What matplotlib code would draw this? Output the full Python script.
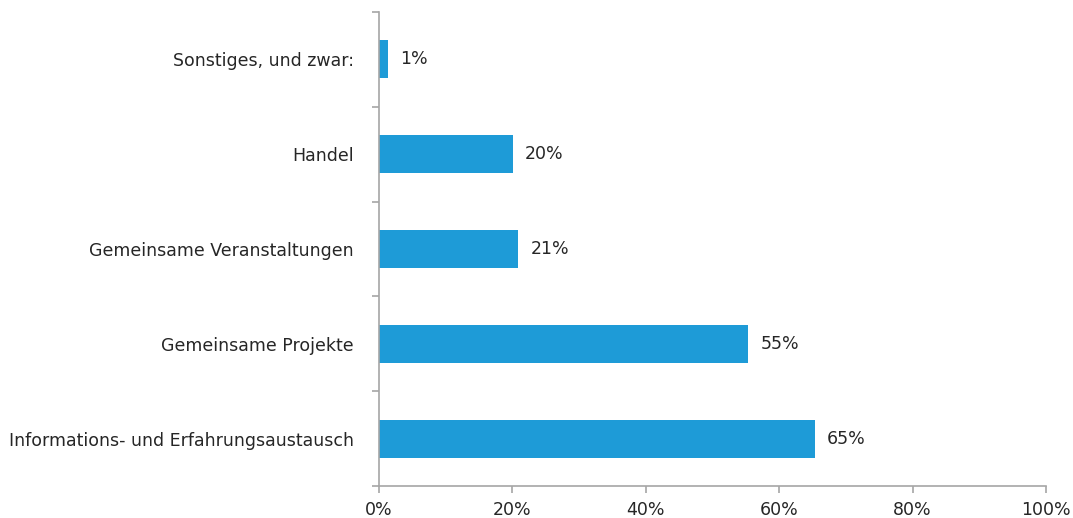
import matplotlib.pyplot as plt
import numpy as np
from matplotlib.ticker import FixedLocator, PercentFormatter

categories = [
    "Informations- und Erfahrungsaustausch",
    "Gemeinsame Projekte",
    "Gemeinsame Veranstaltungen",
    "Handel",
    "Sonstiges, und zwar:",
]
shares = [65.4, 55.4, 20.9, 20.1, 1.4]

bar_color = "#1e9bd7"
axis_color = "#a6a6a6"
text_color = "#262626"

plt.rcParams["font.family"] = "DejaVu Sans"

fig = plt.figure(figsize=(10.73, 5.18), dpi=100)
ax = fig.add_axes([0.3532, 0.0618, 0.6216, 0.915])

y = np.arange(len(categories))
bars = ax.barh(y, shares, height=0.4, color=bar_color)

for rect, v in zip(bars, shares):
    ax.text(rect.get_width() + 1.8, rect.get_y() + rect.get_height() / 2,
            f"{v:.0f}%", va="center", ha="left", fontsize=12.5, color=text_color)

ax.set_xlim(0, 100)
ax.set_ylim(-0.5, len(categories) - 0.5)
ax.set_xticks(np.arange(0, 101, 20))
ax.xaxis.set_major_formatter(PercentFormatter(100, decimals=0))
ax.set_yticks(y)
ax.set_yticklabels(categories)
ax.yaxis.set_minor_locator(FixedLocator(np.arange(-0.5, len(categories), 1)))

for side in ("top", "right"):
    ax.spines[side].set_visible(False)
for side in ("left", "bottom"):
    ax.spines[side].set_color(axis_color)
    ax.spines[side].set_linewidth(1.2)

ax.tick_params(axis="y", which="major", length=0, pad=18,
               labelsize=12.5, labelcolor=text_color)
ax.tick_params(axis="y", which="minor", length=5, width=1.2, color=axis_color)
ax.tick_params(axis="x", length=5, width=1.2, color=axis_color, pad=6,
               labelsize=12.5, labelcolor=text_color)

fig.savefig("out.png", dpi=100)
